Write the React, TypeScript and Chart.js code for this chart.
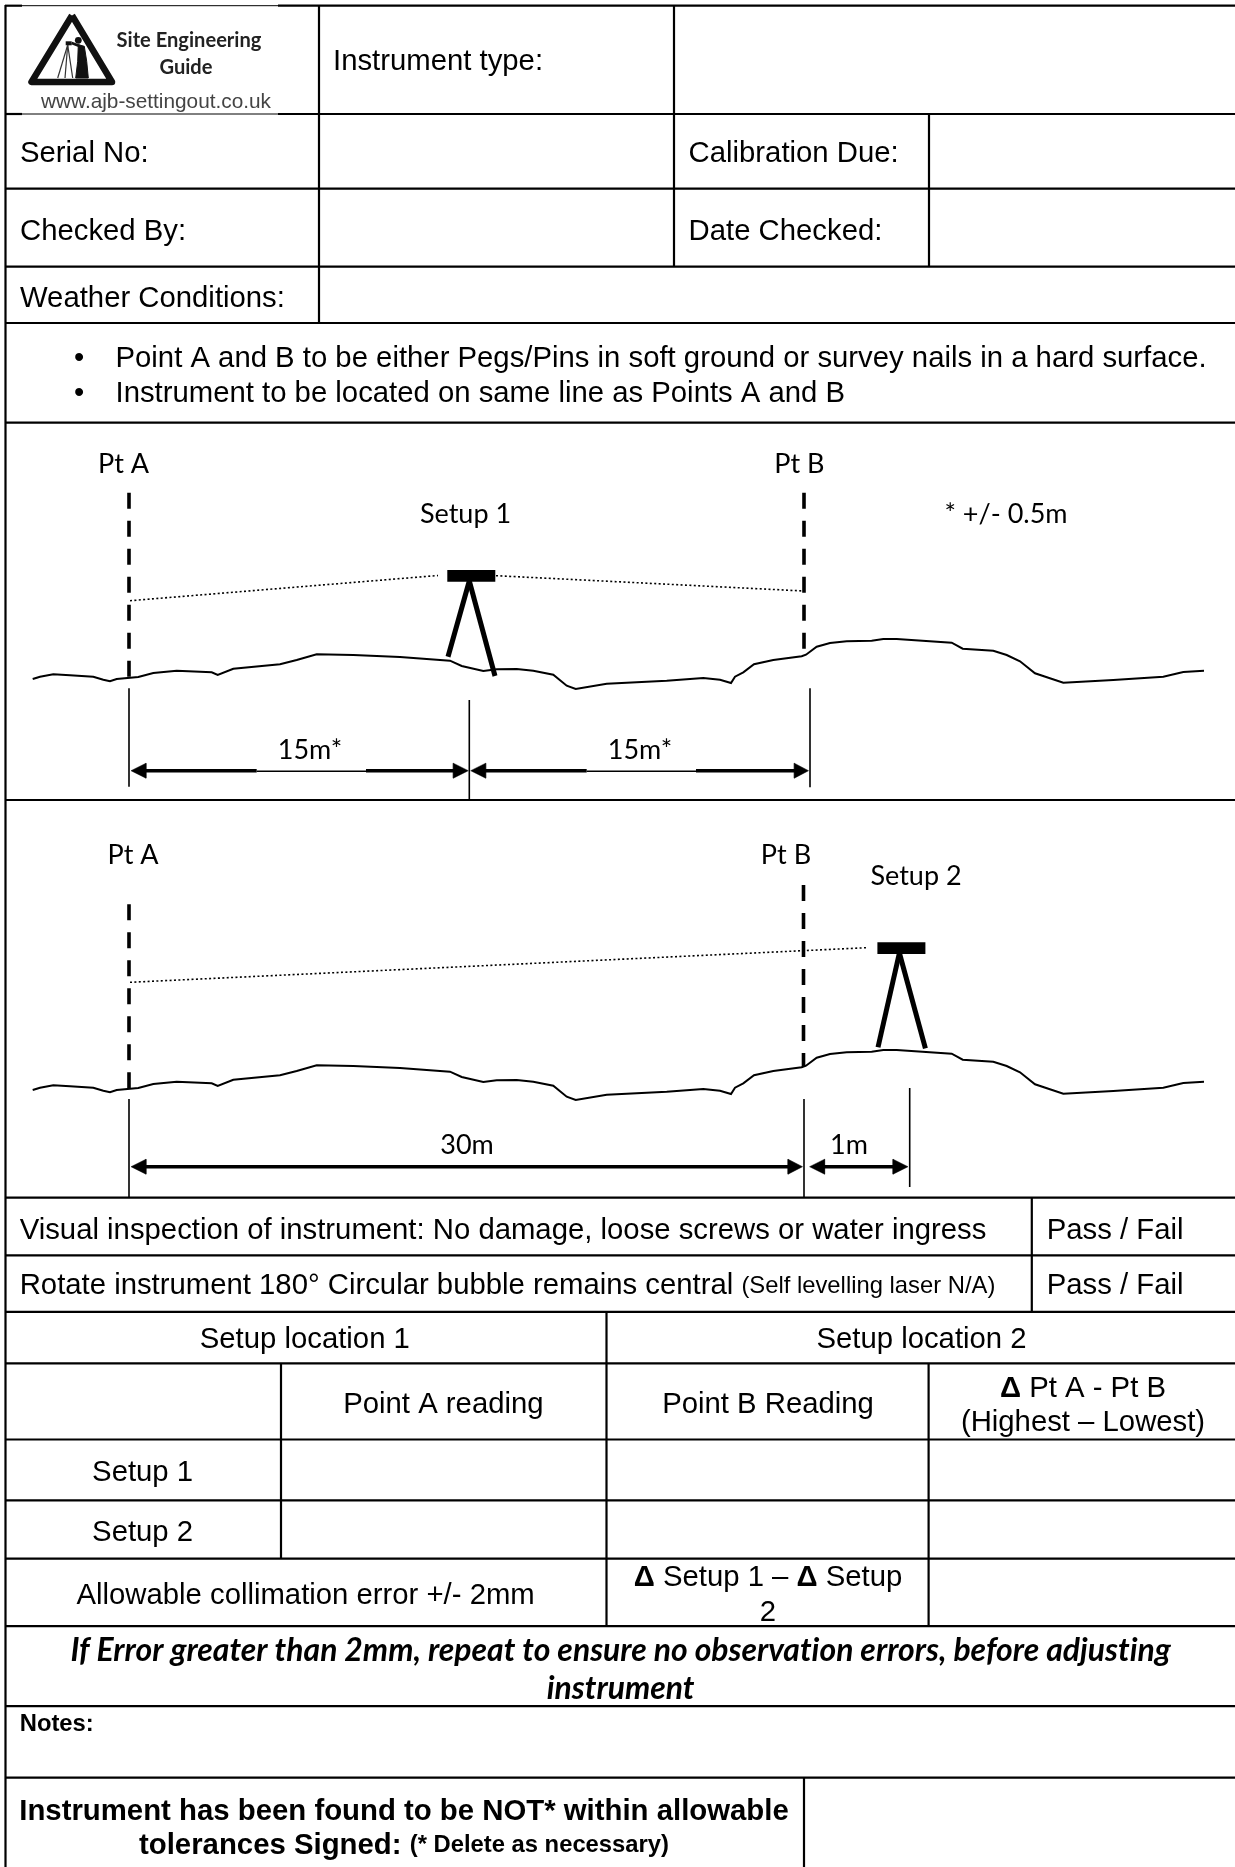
import React, { useEffect, useRef } from "react";
import { Chart, registerables } from "chart.js";

Chart.register(...registerables);

// Ground profile
const groundX = [32.7,40,53.3,70,93.3,103.3,110,116.7,138.3,153.3,176.7,211.7,217.7,233.3,280,296.7,316.7,353.3,400,450,461.7,483.3,496.7,516.7,533.3,553.3,566.7,575.7,606.7,666.7,703.3,720,731,735,743.3,754,773.3,801.7,806,816.7,830,846.7,871.7,883.3,896.7,951.7,962.7,993.3,1006.7,1020,1035,1063.3,1113.3,1163.3,1183.3,1204];
const groundY = [679,676.7,674.3,675.3,676.7,679.7,681.3,679,677,673,670.7,672.3,675,668.7,664.3,660,654.3,655,657,660.7,666,671,669.3,669,670.7,674.7,685.7,689,683.7,680.7,678,679.7,683,676.7,672.3,664.3,660,656.3,654.7,646.7,643,641.3,640.7,639,639,642.7,648.7,650.7,655,661.3,673.3,682.7,680,676.7,672,670.7];
const ground2Y = [1090,1087.7,1085.3,1086.3,1087.7,1090.7,1092.3,1090,1088,1084,1081.7,1083.3,1086,1079.7,1075.3,1071,1065.3,1066,1068,1071.7,1077,1082,1080.3,1080,1081.7,1085.7,1096.7,1100,1094.7,1091.7,1089,1090.7,1094,1087.7,1083.3,1075.3,1071,1067.3,1065.7,1057.7,1054,1052.3,1051.7,1050,1050,1053.7,1059.7,1061.7,1066,1072.3,1084.3,1093.7,1091,1087.7,1083,1081.7];

// Form grid: [x1, y1, x2, y2]
const thickRules = [
  [5,5.7,22,5.7],[278,5.7,1235,5.7],[5,114,22,114],[278,114,1235,114],
  [5,188.7,1235,188.7],[5,266.7,1235,266.7],[5,323,1235,323],[5,422.7,1235,422.7],[5,800,1235,800],
  [5,1197.7,1235,1197.7],[5,1255.3,1235,1255.3],[5,1311.9,1235,1311.9],[5,1363.4,1235,1363.4],
  [5,1439.5,1235,1439.5],[5,1500.3,1235,1500.3],[5,1558.6,1235,1558.6],[5,1626.2,1235,1626.2],
  [5,1706.2,1235,1706.2],[5,1777.7,1235,1777.7],
  [5.5,5,5.5,1867],[319,5,319,323],[674,5,674,266.7],[929,114,929,266.7],[1031.8,1197.7,1031.8,1311.9],
  [606.5,1311.9,606.5,1626.2],[281,1363.4,281,1558.6],[928.6,1363.4,928.6,1626.2],[804,1777.7,804,1867],
];
const thinRules = [[22,5.7,278,5.7],[22,114,278,114]];

// Diagram line work: [x1, y1, x2, y2]
const dashedPegs = [[129,492.7,129,677],[804,492.7,804,649],[129,904.3,129,1088],[803.5,885,803.5,1067]];
const sightLines = [[130,600.7,438,575.5],[496,575.7,804,591],[130,982.3,866.4,947.7]];
const instrumentHeads = [[447.3,575.8,495.3,575.8],[877.4,948.2,925.4,948.2]];
const tripodLegs = [[469.3,581,448,656.7],[469.3,581,495,676],[899.4,953,878,1047.3],[899.4,953,925.4,1048.3]];
const extensionLines = [[129,688.3,129,786.7],[469.3,700,469.3,800],[810,688.3,810,787.3],[129,1099,129,1197],[804,1099,804,1197],[909.7,1088,909.7,1187]];
const arrowShafts = [[140,770.7,256.7,770.7],[366,770.7,458,770.7],[480,770.7,586.7,770.7],[696,770.7,800,770.7],[140,1166.7,793,1166.7],[820,1166.7,898,1166.7]];
const arrowGaps = [[256.7,771.3,366,771.3],[586.7,771.3,696,771.3]];
// Arrow heads: tip x, base x, y
const arrowHeads = [[131,146,770.7],[468.3,453.3,770.7],[470.7,485.7,770.7],[808.5,794.3,770.7],[131,146,1166.7],[802.5,788,1166.7],[809.6,824.6,1166.7],[908,893,1166.7]];

// Logo artwork
const logoTriangleX = [72,31.5,112,72];
const logoTriangleY = [15.5,82,82,15.5];
const logoTripodFeet = [[57.7,78],[65,78],[72.7,78]];
const logoBodyX = [78.3,84.3,86.7,88.3,75.7,77.7,78.3];
const logoBodyY = [44.7,46.3,61.3,78,78,61.3,44.7];

const A = '"Liberation Sans", Arial, sans-serif';
const F11 = `29.3px ${A}`;
const F9 = `23.8px ${A}`;
const B11 = `bold 29.3px ${A}`;
const B9 = `bold 23.8px ${A}`;
const B12 = `bold 29.35px ${A}`;
const SKETCH = `27px Lato, sans-serif`;
const ITAL = `italic bold 31.9px Lato, sans-serif`;
const LOGO = `bold 20.1px Lato, sans-serif`;

type Run = [string, string];
type Label = { runs: Run[]; x: number; y: number; align?: "left" | "center"; color?: string };
const one = (t: string, f: string, x: number, y: number, align: "left" | "center" = "left", color?: string): Label => ({ runs: [[t, f]], x, y, align, color });

const labels: Label[] = [
  one("Site Engineering", LOGO, 189, 41, "center", "#222"),
  one("Guide", LOGO, 186, 67.7, "center", "#222"),
  one("www.ajb-settingout.co.uk", `20.8px ${A}`, 156, 102, "center", "#444"),
  one("Instrument type:", F11, 333, 62),
  one("Serial No:", F11, 20, 154),
  one("Calibration Due:", F11, 688.6, 154),
  one("Checked By:", F11, 20, 232),
  one("Date Checked:", F11, 688.6, 232),
  one("Weather Conditions:", F11, 20, 298.5),
  one("•", F11, 74, 359),
  one("Point A and B to be either Pegs/Pins in soft ground or survey nails in a hard surface.", F11, 115.5, 359),
  one("•", F11, 74, 393.5),
  one("Instrument to be located on same line as Points A and B", F11, 115.5, 393.5),
  one("Pt A", SKETCH, 123.6, 464, "center"),
  one("Pt B", SKETCH, 799.4, 464, "center"),
  one("Setup 1", SKETCH, 465.5, 514, "center"),
  one("* +/- 0.5m", SKETCH, 1006, 514, "center"),
  one("15m*", SKETCH, 310, 750, "center"),
  one("15m*", SKETCH, 640, 750, "center"),
  one("Pt A", SKETCH, 133, 855, "center"),
  one("Pt B", SKETCH, 786, 855, "center"),
  one("Setup 2", SKETCH, 916, 876, "center"),
  one("30m", SKETCH, 467, 1145.7, "center"),
  one("1m", SKETCH, 849, 1145.7, "center"),
  one("Visual inspection of instrument: No damage, loose screws or water ingress", F11, 19.7, 1230.5),
  one("Pass / Fail", F11, 1046.7, 1230.5),
  { runs: [["Rotate instrument 180° Circular bubble remains central ", F11], ["(Self levelling laser N/A)", F9]], x: 19.7, y: 1286 },
  one("Pass / Fail", F11, 1046.7, 1286),
  one("Setup location 1", F11, 304.8, 1340, "center"),
  one("Setup location 2", F11, 921.5, 1340, "center"),
  one("Point A reading", F11, 443.4, 1405.3, "center"),
  one("Point B Reading", F11, 768, 1405.3, "center"),
  { runs: [["Δ", B11], [" Pt A - Pt B", F11]], x: 1083, y: 1389, align: "center" },
  one("(Highest – Lowest)", F11, 1083, 1423, "center"),
  one("Setup 1", F11, 142.6, 1473.4, "center"),
  one("Setup 2", F11, 142.6, 1532.5, "center"),
  one("Allowable collimation error +/- 2mm", F11, 305.6, 1595.5, "center"),
  { runs: [["Δ", B11], [" Setup 1 – ", F11], ["Δ", B11], [" Setup", F11]], x: 768, y: 1578, align: "center" },
  one("2", F11, 768, 1612.5, "center"),
  one("If Error greater than 2mm, repeat to ensure no observation errors, before adjusting", ITAL, 620.6, 1651, "center"),
  one("instrument", ITAL, 620.6, 1688.4, "center"),
  one("Notes:", B9, 19.7, 1724.4),
  one("Instrument has been found to be NOT* within allowable", B12, 404, 1811.5, "center"),
  { runs: [["tolerances Signed: ", B12], ["(* Delete as necessary)", B9]], x: 404, y: 1845.5, align: "center" },
];

const textPlugin = {
  id: "formText",
  afterDatasetsDraw(chart: any) {
    const { ctx, scales } = chart;
    ctx.save();
    ctx.textBaseline = "middle";
    ctx.textAlign = "left";
    for (const l of labels) {
      // Lato's "ti" ligature is absent from the reference lettering
      ctx.textRendering = l.runs[0][1] === ITAL ? "optimizeSpeed" : "auto";
      let total = 0;
      for (const [t, f] of l.runs) {
        ctx.font = f;
        total += ctx.measureText(t).width;
      }
      let px = scales.x.getPixelForValue(l.x);
      if (l.align === "center") px -= total / 2;
      const py = scales.y.getPixelForValue(l.y);
      ctx.fillStyle = l.color || "#000";
      for (const [t, f] of l.runs) {
        ctx.font = f;
        ctx.fillText(t, px, py);
        px += ctx.measureText(t).width;
      }
    }
    ctx.restore();
  },
};

const line = (xs: number[], ys: number[], width: number, extra: object = {}) => ({
  data: xs.map((x, i) => ({ x, y: ys[i] })),
  showLine: true,
  borderColor: "#000",
  borderWidth: width,
  pointRadius: 0,
  tension: 0,
  fill: false,
  ...extra,
});
const segments = (list: number[][], width: number, extra: object = {}) =>
  list.map((s) => line([s[0], s[2]], [s[1], s[3]], width, extra));

export default function App() {
  const ref = useRef<HTMLCanvasElement | null>(null);
  useEffect(() => {
    document.body.style.margin = "0";
    const datasets: any[] = [
      ...segments(thickRules, 2.2),
      ...segments(thinRules, 1),
      line(groundX, groundY, 2),
      line(groundX, ground2Y, 2),
      ...segments(dashedPegs, 3.6, { borderDash: [16, 12] }),
      ...segments(sightLines, 1.6, { borderDash: [2, 2.4] }),
      ...segments(instrumentHeads, 11.7),
      ...segments(tripodLegs, 5),
      ...segments(extensionLines, 1.6),
      ...segments(arrowShafts, 3.4),
      ...segments(arrowGaps, 1.4),
      ...arrowHeads.map((a) =>
        line([a[0], a[1], a[1], a[0]], [a[2], a[2] - 7.5, a[2] + 7.5, a[2]], 0.5, { fill: "shape", backgroundColor: "#000" })
      ),
      line(logoTriangleX, logoTriangleY, 6.5, { borderJoinStyle: "round", borderColor: "#111" }),
      ...logoTripodFeet.map((f) => line([67.7, f[0]], [45, f[1]], 1.2, { borderColor: "#333" })),
      line([65.7, 71.7], [43.3, 43.3], 4, { borderColor: "#111" }),
      line([71.7, 80], [43, 46.3], 2.6, { borderColor: "#111" }),
      line(logoBodyX, logoBodyY, 1, { fill: "shape", backgroundColor: "#111", borderColor: "#111" }),
      { data: [{ x: 78.3, y: 40.3 }], pointRadius: 3.4, pointBackgroundColor: "#111", pointBorderWidth: 0, showLine: false },
    ];
    const chart = new Chart(ref.current!, {
      type: "scatter",
      data: { datasets },
      options: {
        animation: false,
        responsive: false,
        devicePixelRatio: 1,
        events: [],
        layout: { padding: 0, autoPadding: false },
        plugins: { legend: { display: false }, tooltip: { enabled: false }, title: { display: false } },
        scales: {
          x: { type: "linear", min: 0, max: 1235, display: false },
          y: { type: "linear", min: 0, max: 1867, reverse: true, display: false },
        },
      },
      plugins: [textPlugin],
    } as any);
    return () => chart.destroy();
  }, []);
  return (
    <div style={{ position: "absolute", left: 0, top: 0, width: 1235, height: 1867, background: "#fff" }}>
      <canvas ref={ref} width={1235} height={1867} style={{ display: "block" }} />
    </div>
  );
}
